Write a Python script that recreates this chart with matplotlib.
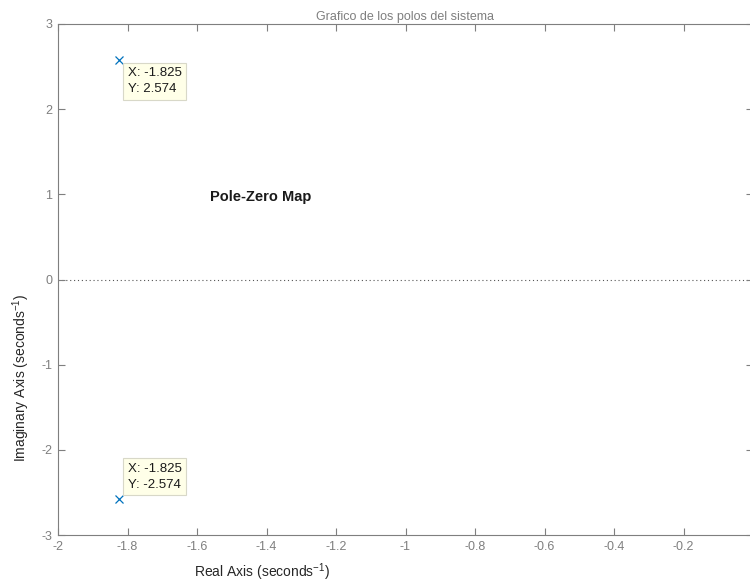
import numpy as np
import matplotlib
matplotlib.use("Agg")
import matplotlib.pyplot as plt

# polos del sistema
polos_real = [-1.825, -1.825]
polos_imag = [2.574, -2.574]

xticks = [-2, -1.8, -1.6, -1.4, -1.2, -1, -0.8, -0.6, -0.4, -0.2, 0]
xtick_labels = ["-2", "-1.8", "-1.6", "-1.4", "-1.2", "-1", "-0.8", "-0.6", "-0.4", "-0.2", "0"]
yticks = [-3, -2, -1, 0, 1, 2, 3]
ytick_labels = ["-3", "-2", "-1", "0", "1", "2", "3"]

plt.rcParams['font.family'] = ['Liberation Sans', 'DejaVu Sans']
plt.rcParams['mathtext.default'] = 'regular'
plt.rcParams['axes.unicode_minus'] = False

gris = '#7f7f7f'
fig = plt.figure(figsize=(7.5, 5.83), dpi=100)
ax = fig.add_axes([58 / 750, 48 / 583, 695 / 750, 511 / 583])

ax.axhline(0, color='#555555', linestyle=(0, (1, 2.5)), linewidth=0.8, zorder=1)
ax.plot(polos_real, polos_imag, linestyle='none', marker='x', markersize=6,
        markeredgewidth=0.9, color='#0072BD', zorder=3)

# datatips
for xr, yi in zip(polos_real, polos_imag):
    texto = f"X: {xr:.3f}\nY: {yi:.3f}"
    if yi > 0:
        off, va = (9, -7), 'top'
    else:
        off, va = (9, 8), 'bottom'
    ax.annotate(texto, xy=(xr, yi), xytext=off, textcoords='offset pixels',
                ha='left', va=va, fontsize=9.5, color='#1a1a1a', linespacing=1.45,
                bbox=dict(boxstyle='square,pad=0.35', facecolor='#FFFFE8',
                          edgecolor='#D8D8C8', linewidth=0.8), zorder=4)

ax.text(-1.418, 0.97, "Pole-Zero Map", fontsize=10.5, fontweight='bold',
        ha='center', va='center', color='#1a1a1a')

ax.set_xlim(-2, 0)
ax.set_ylim(-3, 3)
ax.set_xticks(xticks)
ax.set_xticklabels(xtick_labels)
ax.set_yticks(yticks)
ax.set_yticklabels(ytick_labels)
ax.tick_params(direction='in', length=5, width=0.8, colors=gris, labelsize=9,
               top=True, right=True, pad=4)
for s in ax.spines.values():
    s.set_color(gris)
    s.set_linewidth(0.8)

ax.set_title("Grafico de los polos del sistema", fontsize=9, color=gris, pad=3)
ax.set_xlabel("Real Axis (seconds$^{-1}$)", fontsize=10, color='#262626')
ax.xaxis.set_label_coords(0.293, -0.052)
ax.set_ylabel("Imaginary Axis (seconds$^{-1}$)", fontsize=10, color='#262626')
ax.yaxis.set_label_coords(-0.038, 0.307)

fig.savefig("out.png", dpi=100)
